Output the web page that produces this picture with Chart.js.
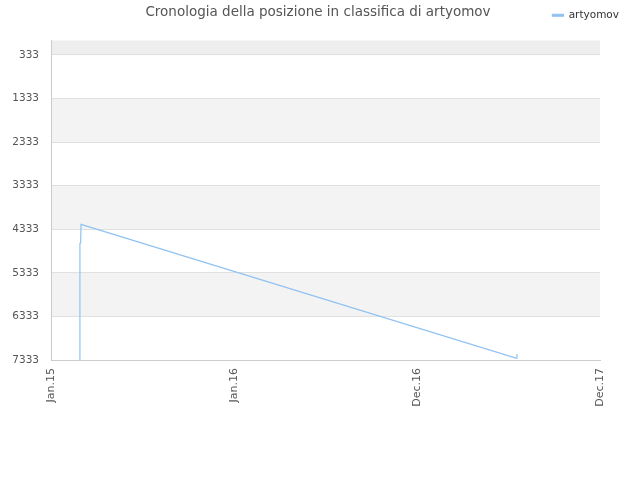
<!DOCTYPE html>
<html>
<head>
<meta charset="utf-8">
<script src="https://cdn.jsdelivr.net/npm/chart.js@4.4.0/dist/chart.umd.min.js"></script>
<style>
  html, body { margin: 0; padding: 0; background: #fff; }
  #wrap { width: 640px; height: 480px; }
</style>
</head>
<body>
<div id="wrap"><canvas id="rankChart"></canvas></div>
<script>
// x positions are in "label units": 0 = Jan.15, 1 = Jan.16, 2 = Dec.16, 3 = Dec.17
const xLabels = ['Jan.15', 'Jan.16', 'Dec.16', 'Dec.17'];
const rankX = [0.158, 0.158, 0.162, 0.164, 2.541, 2.546];
const rankY = [7333, 4656, 4650, 4219, 7288, 7196];
const yTicks = [333, 1333, 2333, 3333, 4333, 5333, 6333, 7333];

const points = rankX.map((x, i) => ({ x: x, y: rankY[i] }));

// alternating grey bands behind the plot
const bandsPlugin = {
  id: 'bands',
  beforeDraw(chart) {
    const { ctx, chartArea, scales } = chart;
    const y = scales.y;
    ctx.save();
    ctx.fillStyle = '#eeeeee';
    ctx.fillRect(chartArea.left, chartArea.top, chartArea.width, y.getPixelForValue(yTicks[0]) - chartArea.top);
    for (let i = 0; i < yTicks.length - 1; i++) {
      if ((yTicks.length - 2 - i) % 2 === 1) {
        const top = y.getPixelForValue(yTicks[i]);
        const bot = y.getPixelForValue(yTicks[i + 1]);
        ctx.fillStyle = '#f3f3f3';
        ctx.fillRect(chartArea.left, top, chartArea.width, bot - top);
      }
    }
    ctx.restore();
  }
};

const titlePlugin = {
  id: 'sideTitle',
  afterDraw(chart) {
    const ctx = chart.ctx;
    ctx.save();
    ctx.font = '13.5px "DejaVu Sans"';
    ctx.fillStyle = '#555555';
    ctx.textAlign = 'center';
    ctx.textBaseline = 'middle';
    ctx.fillText('Cronologia della posizione in classifica di artyomov', 318, 12);
    ctx.restore();
  }
};

// make room under the legend so the plot starts lower
const legendGap = {
  id: 'legendGap',
  beforeInit(chart) {
    const origFit = chart.legend.fit;
    chart.legend.fit = function () {
      origFit.bind(chart.legend)();
      this.height += 10;
    };
  }
};

new Chart(document.getElementById('rankChart'), {
  type: 'line',
  data: {
    datasets: [{
      label: 'artyomov',
      data: points,
      borderColor: '#90c2f2',
      backgroundColor: '#90c2f2',
      borderWidth: 1.2,
      pointRadius: 0,
      tension: 0,
      fill: false
    }]
  },
  options: {
    responsive: true,
    maintainAspectRatio: false,
    animation: false,
    devicePixelRatio: 1,
    layout: { padding: { left: 8, right: 13, top: 2, bottom: 0 } },
    plugins: {
      title: { display: false },
      tooltip: { enabled: false },
      legend: {
        position: 'top',
        align: 'end',
        labels: {
          color: '#333333',
          font: { family: 'DejaVu Sans', size: 10.5 },
          boxWidth: 11,
          boxHeight: 2,
          padding: 8
        }
      }
    },
    scales: {
      x: {
        type: 'linear',
        min: 0,
        max: 3,
        afterBuildTicks(scale) { scale.ticks = xLabels.map((l, i) => ({ value: i })); },
        afterFit(scale) { scale.height = 120; },
        grid: { display: false, drawTicks: false },
        border: { color: '#cccccc' },
        ticks: {
          color: '#555555',
          font: { family: 'DejaVu Sans', size: 11 },
          maxRotation: 90,
          minRotation: 90,
          padding: 8,
          callback: (v) => xLabels[v]
        }
      },
      y: {
        reverse: true,
        min: 1,
        max: 7333,
        afterBuildTicks(scale) { scale.ticks = yTicks.map(v => ({ value: v })); },
        afterFit(scale) { scale.width = 43; },
        grid: { color: '#e0e0e0', drawTicks: false },
        border: { color: '#cccccc' },
        ticks: {
          color: '#555555',
          font: { family: 'DejaVu Sans', size: 10.5 },
          padding: 12,
          callback: (v) => String(v)
        }
      },
      // empty spacer on the right so the plot ends at x=600
      yRight: {
        position: 'right',
        afterFit(scale) { scale.width = 27; },
        grid: { display: false, drawTicks: false },
        border: { display: false },
        ticks: { display: false }
      }
    }
  },
  plugins: [bandsPlugin, titlePlugin, legendGap]
});
</script>
</body>
</html>
